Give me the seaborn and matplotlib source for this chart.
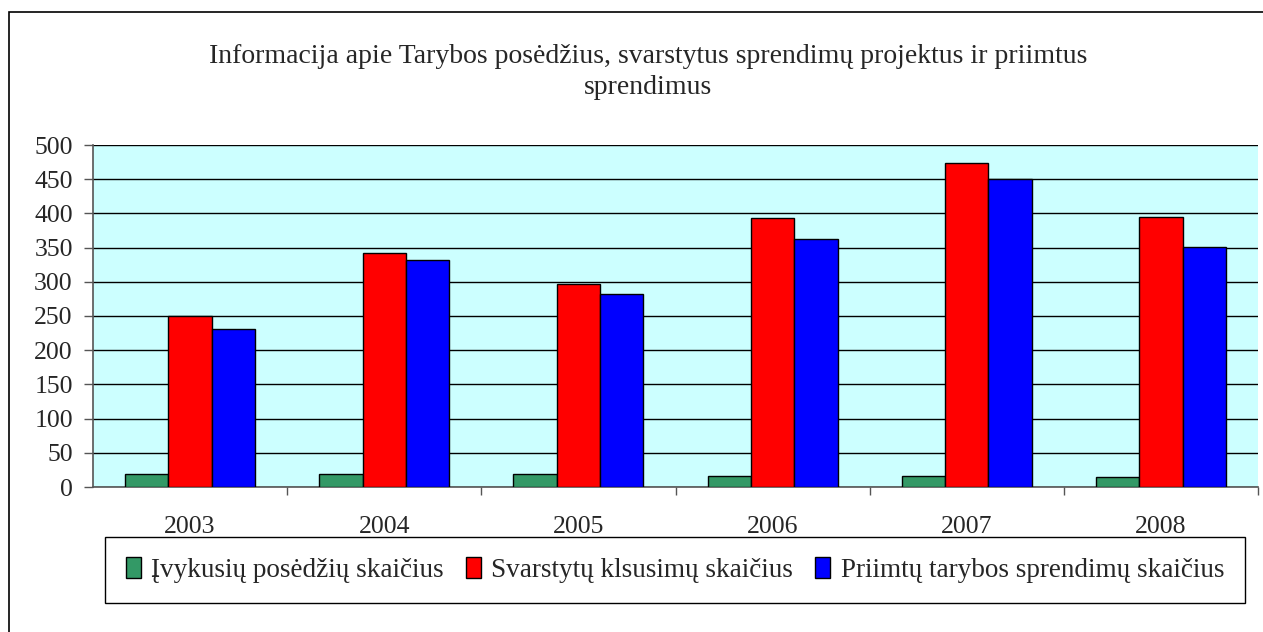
import matplotlib
matplotlib.use("Agg")
import matplotlib.pyplot as plt
from matplotlib.patches import Rectangle
from matplotlib.ticker import FixedLocator
import seaborn as sns
import pandas as pd

years = ["2003", "2004", "2005", "2006", "2007", "2008"]
series_names = [
    "Įvykusių posėdžių skaičius",
    "Svarstytų klsusimų skaičius",
    "Priimtų tarybos sprendimų skaičius",
]
posedziai = [19, 19, 19, 16, 16, 14]
svarstyti = [250, 342, 297, 393, 473, 395]
priimti = [231, 332, 282, 363, 450, 351]
y_ticks = [0, 50, 100, 150, 200, 250, 300, 350, 400, 450, 500]
title = ("Informacija apie Tarybos posėdžius, svarstytus sprendimų projektus ir priimtus\n"
         "sprendimus")

colors = ["#339966", "#FF0000", "#0000FF"]

# long table for seaborn
rows = []
for name, vals in zip(series_names, [posedziai, svarstyti, priimti]):
    for yr, v in zip(years, vals):
        rows.append({"Metai": yr, "Serija": name, "Reiksme": v})
df = pd.DataFrame(rows)

sns.set_style("white")
plt.rcParams["font.family"] = ["Liberation Serif", "DejaVu Serif"]

fig = plt.figure(figsize=(12.63, 6.32), dpi=100)
ax = fig.add_axes([93 / 1263, (632 - 487) / 632,
                   (1258 - 93) / 1263, (487 - 145) / 632])

sns.barplot(data=df, x="Metai", y="Reiksme", hue="Serija",
            palette=colors, width=0.67, edgecolor="black", linewidth=1,
            saturation=1, ax=ax, zorder=3)

ax.set_facecolor("#CCFFFF")
ax.set_ylim(0, 500)
ax.set_xlim(-0.5, 5.5)
ax.set_yticks(y_ticks)
ax.yaxis.grid(True, color="black", linewidth=1, zorder=1)
ax.set_axisbelow(True)
ax.set_xlabel("")
ax.set_ylabel("")

ax.tick_params(axis="y", labelsize=18.5, length=6.5, width=1, color="#555555",
               pad=8, left=True)
ax.tick_params(axis="x", which="major", labelsize=18.5, length=0, pad=21)
ax.xaxis.set_minor_locator(FixedLocator([0.5, 1.5, 2.5, 3.5, 4.5, 5.5]))
ax.tick_params(axis="x", which="minor", length=6, width=1, color="#555555",
               bottom=True)

for side in ["top", "right"]:
    ax.spines[side].set_visible(False)
for side in ["left", "bottom"]:
    ax.spines[side].set_color("#555555")
    ax.spines[side].set_linewidth(1.2)

handles, labels = ax.get_legend_handles_labels()
ax.get_legend().remove()
fig.legend(handles, labels, loc="center", bbox_to_anchor=(675 / 1263, 1 - 570 / 632),
           ncol=3, fontsize=19.5, frameon=True, fancybox=False, edgecolor="black",
           handlelength=0.55, handleheight=0.8, handletextpad=0.4, columnspacing=0.8,
           borderpad=0.75, borderaxespad=0, framealpha=1)

fig.text(648 / 1263, 1 - 72 / 632, title, ha="center", va="center",
         fontsize=20, linespacing=1.3)

# outer chart border (cut by the image at right and bottom)
fig.patches.append(Rectangle((9 / 1263, -0.1), 2, 1 - 12 / 632 + 0.1,
                             transform=fig.transFigure, fill=False,
                             edgecolor="black", linewidth=1.2))

fig.savefig("out.png", dpi=100)
